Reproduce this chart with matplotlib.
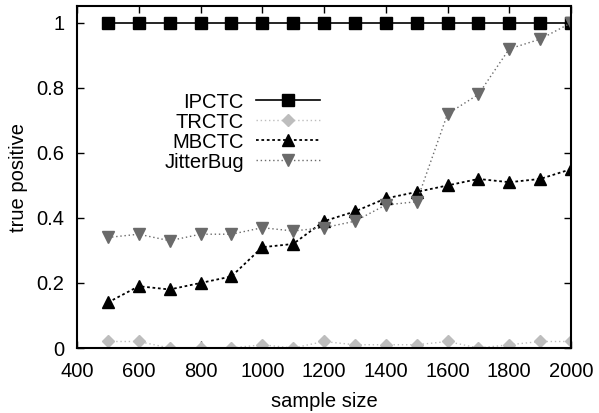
import numpy as np
import matplotlib
matplotlib.use("Agg")
import matplotlib.pyplot as plt

plt.rcParams['font.family'] = ['Liberation Sans', 'DejaVu Sans']

sample_size = [500, 600, 700, 800, 900, 1000, 1100, 1200, 1300, 1400,
               1500, 1600, 1700, 1800, 1900, 2000]
ipctc = [1.0] * 16
trctc = [0.02, 0.02, 0.0, 0.0, 0.0, 0.01, 0.0, 0.02, 0.01, 0.01,
         0.01, 0.02, 0.0, 0.01, 0.02, 0.02]
mbctc = [0.14, 0.19, 0.18, 0.20, 0.22, 0.31, 0.32, 0.39, 0.42, 0.46,
         0.48, 0.50, 0.52, 0.51, 0.52, 0.55]
jitterbug = [0.34, 0.35, 0.33, 0.35, 0.35, 0.37, 0.36, 0.37, 0.39, 0.44,
             0.45, 0.72, 0.78, 0.92, 0.95, 1.0]

fig = plt.figure(figsize=(5.99, 4.13), dpi=100)
ax = fig.add_axes([77/599, 1 - 348/413, (571-77)/599, (348-6)/413])

ax.plot(sample_size, ipctc, color='black', lw=1.2, marker='s', ms=8,
        label='IPCTC')
ax.plot(sample_size, trctc, color='#bdbdbd', lw=1, ls=(0, (1, 2)),
        marker='D', ms=6, label='TRCTC')
ax.plot(sample_size, mbctc, color='black', lw=1.3, ls=(0, (1.5, 1.5)),
        marker='^', ms=8, label='MBCTC')
ax.plot(sample_size, jitterbug, color='#6a6a6a', lw=1, ls=(0, (1, 2)),
        marker='v', ms=8, label='JitterBug')

ax.set_xlim(400, 2000)
ax.set_ylim(0, 1.052)
ax.set_xticks(np.arange(400, 2001, 200))
ax.set_yticks([0, 0.2, 0.4, 0.6, 0.8, 1])
ax.set_yticklabels(['0', '0.2', '0.4', '0.6', '0.8', '1'])
ax.tick_params(direction='in', top=True, right=True, labelsize=14.5, length=5,
               width=1)
ax.tick_params(axis='x', pad=10)
ax.tick_params(axis='y', pad=9)
for s in ax.spines.values():
    s.set_linewidth(1.5)

ax.set_xlabel('sample size', fontsize=14.5, labelpad=8)
ax.set_ylabel('true positive', fontsize=14.5, labelpad=6)

leg = ax.legend(loc='upper left', bbox_to_anchor=(0.14, 0.80), frameon=False,
                fontsize=14.5, markerfirst=False, handlelength=3.2,
                labelspacing=0.05, handletextpad=0.6)
for t in leg.get_texts():
    t.set_ha('right')
leg._legend_box.align = 'right'

fig.savefig('out.png', dpi=100)
